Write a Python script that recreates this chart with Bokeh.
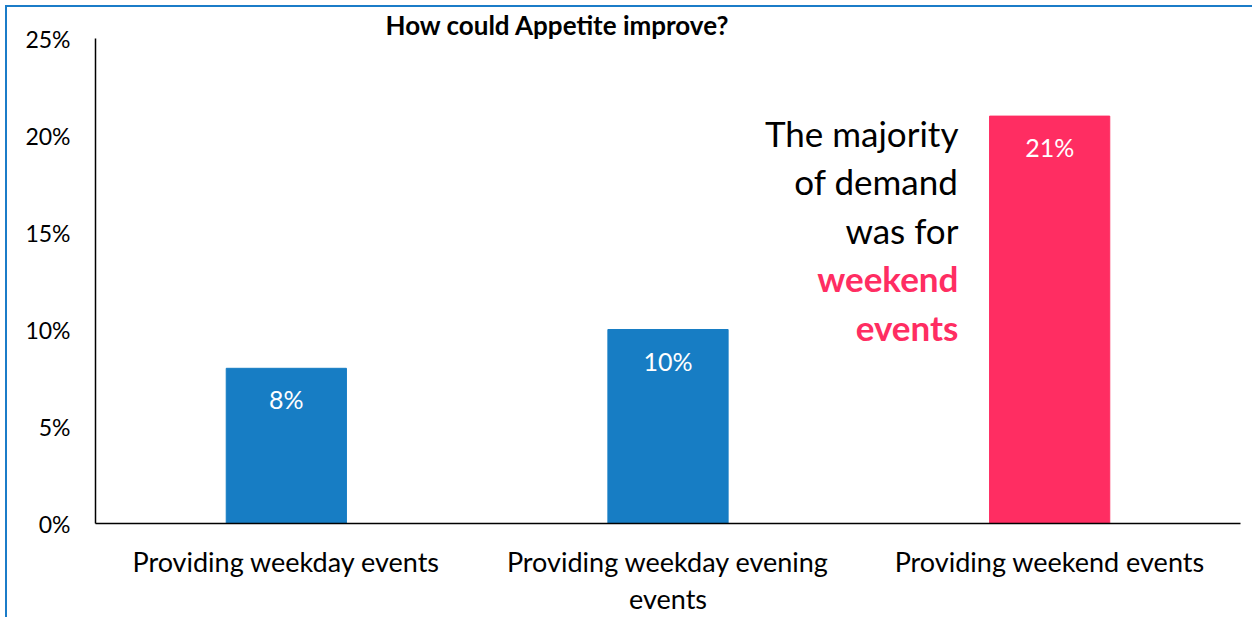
from bokeh.plotting import figure
from bokeh.models import ColumnDataSource, Label, FixedTicker, Title, LinearAxis
from bokeh.embed import file_html
from bokeh.resources import INLINE

categories = ["Providing weekday events", "Providing weekday evening events", "Providing weekend events"]
values = [8, 10, 21]
bar_labels = ["8%", "10%", "21%"]
colors = ["#177DC4", "#177DC4", "#FF2D62"]
y_ticks = [0, 5, 10, 15, 20, 25]
y_tick_labels = ["0%", "5%", "10%", "15%", "20%", "25%"]
x_labels_line1 = ["Providing weekday events", "Providing weekday evening", "Providing weekend events"]
x_labels_line2 = ["", "events", ""]
title_text = "How could Appetite improve?"
note_lines = ["The majority", "of demand", "was for", "weekend", "events"]

FONT = "Lato"

xpos = [i + 0.5 for i in range(len(categories))]
src = ColumnDataSource(dict(x=xpos, cat=categories, val=values, lab=bar_labels, col=colors))

p = figure(x_range=(0, len(categories)), y_range=(0, 25),
           frame_width=1145, frame_height=485, output_backend="svg", toolbar_location=None,
           min_border_left=88, min_border_top=31, min_border_right=12, min_border_bottom=10)
p.styles = {"border-left": "2px solid #1B7CC8", "border-top": "2px solid #1B7CC8",
            "margin-left": "5px", "margin-top": "5px"}
p.outline_line_color = None
p.xgrid.grid_line_color = None
p.ygrid.grid_line_color = None
p.background_fill_color = "white"
p.border_fill_color = "white"

p.vbar(x="x", top="val", width=0.315, color="col", source=src)

p.text(x="x", y="val", text="lab", source=src, text_color="white",
       text_align="center", text_baseline="middle", y_offset=31,
       text_font_size="25px", text_font={"value": FONT})

# axes
p.yaxis.ticker = FixedTicker(ticks=y_ticks)
p.yaxis.major_label_overrides = {t: l for t, l in zip(y_ticks, y_tick_labels)}
p.yaxis.major_tick_line_color = None
p.yaxis.minor_tick_line_color = None
p.yaxis.major_label_standoff = 19
p.yaxis.major_label_text_font_size = "23px"
p.yaxis.major_label_text_font = FONT
p.yaxis.major_label_text_color = "black"
p.yaxis.axis_line_color = "black"
p.yaxis.axis_line_width = 1.5

p.xaxis.ticker = FixedTicker(ticks=xpos)
p.xaxis.major_label_overrides = dict(zip(xpos, x_labels_line1))
p.xaxis.major_tick_line_color = None
p.xaxis.minor_tick_line_color = None
p.xaxis.major_label_standoff = 15
p.xaxis.major_label_text_font_size = "27px"
p.xaxis.major_label_text_font = FONT
p.xaxis.major_label_text_color = "black"
p.xaxis.axis_line_color = "black"
p.xaxis.axis_line_width = 1.5

ax2 = LinearAxis(ticker=FixedTicker(ticks=xpos), axis_line_color=None, major_tick_line_color=None,
                 minor_tick_line_color=None, major_label_standoff=-5,
                 major_label_text_font_size="27px", major_label_text_font=FONT,
                 major_label_text_color="black",
                 major_label_overrides=dict(zip(xpos, x_labels_line2)))
p.add_layout(ax2, "below")

# title
p.add_layout(Title(text=title_text, align="left", offset=290, text_font=FONT,
                   text_font_style="bold", text_font_size="26px", text_color="black",
                   standoff=-5), "above")

# note
note_y = [20.15, 17.63, 15.15, 12.63, 10.15]
for i, (t, yy) in enumerate(zip(note_lines, note_y)):
    bold = i >= 3
    p.add_layout(Label(x=2.261, y=yy, text=t, text_align="right", text_baseline="middle",
                       text_font=FONT, text_font_size="35px",
                       text_font_style="bold" if bold else "normal",
                       text_color="#FF2D62" if bold else "black"))

open("out.html", "w").write(file_html(p, INLINE))
